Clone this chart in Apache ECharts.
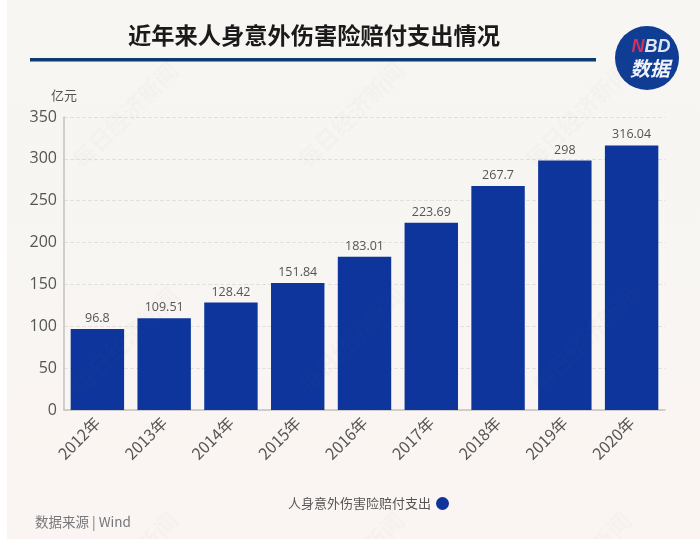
<!DOCTYPE html>
<html><head><meta charset="utf-8">
<style>html,body{margin:0;padding:0;background:#fff}#c{width:700px;height:539px}</style>
<script src="https://cdn.jsdelivr.net/npm/echarts@6/dist/echarts.min.js"></script>
</head><body><div id="c"></div>
<script>
const categories = ['2012年','2013年','2014年','2015年','2016年','2017年','2018年','2019年','2020年'];
const values = [96.8,109.51,128.42,151.84,183.01,223.69,267.7,298,316.04];
const valueLabels = ['96.8','109.51','128.42','151.84','183.01','223.69','267.7','298','316.04'];
const seriesName = '人身意外伤害险赔付支出';
const titleText = '近年来人身意外伤害险赔付支出情况';
const unitText = '亿元';
const sourceText = '数据来源 | Wind';
const watermarkText = '每日经济新闻';
const watermarkSpots = [[125,115],[351,115],[578,115],[125,340],[351,340],[585,340],[125,565],[351,565],[578,565]];
const font = '"Noto Sans CJK SC","Open Sans",sans-serif';
const chart = echarts.init(document.getElementById('c'), null, {renderer:'canvas'});
const bg = [
  {type:'rect',z:-10,shape:{x:7,y:0,width:693,height:539},style:{fill:new echarts.graphic.LinearGradient(0,0,0,1,[{offset:0,color:'#f7f6f3'},{offset:0.6,color:'#f8f5f2'},{offset:0.8,color:'#fbf5f2'},{offset:1,color:'#faf5f2'}])}},
  {type:'rect',z:5,shape:{x:30,y:58,width:566,height:3.5},style:{fill:'#0c3b6e'}},
  {type:'circle',z:5,shape:{cx:647,cy:58,r:32},style:{fill:'#0f3d94'}},
  {type:'text',z:6,x:651,y:47,style:{text:'{a|N}{b|BD}',align:'center',verticalAlign:'middle',rich:{a:{fill:'#d8305a',font:'italic bold 18px "Liberation Sans"'},b:{fill:'#dfe6f2',font:'italic bold 18px "Liberation Sans"'}}}},
  {type:'text',z:6,x:650,y:68,style:{text:'数据',fill:'#f1f3f8',align:'center',verticalAlign:'middle',font:'italic bold 20px "Noto Sans CJK SC"'}},
  {type:'text',z:6,x:35,y:522,style:{text:sourceText,fill:'#77777a',align:'left',verticalAlign:'middle',font:'13.5px '+font}}
];
watermarkSpots.forEach(p=>bg.push({type:'text',z:20,silent:true,x:p[0],y:p[1],rotation:Math.PI/4,style:{text:watermarkText,fill:'rgba(120,120,120,0.03)',align:'center',verticalAlign:'middle',font:'bold 23px "Noto Sans CJK SC"'}}));
chart.setOption({
  animation:false,
  backgroundColor:'#fff',
  title:{text:titleText,left:309,top:19,textAlign:'center',textStyle:{fontFamily:font,fontWeight:'bold',fontSize:23.25,color:'#1a1a1a'}},
  legend:{data:[{name:seriesName,icon:'circle'}],left:283,top:492,align:'right',itemWidth:13,itemHeight:13,itemGap:4,
    textStyle:{fontFamily:font,fontSize:13,color:'#555'}},
  grid:{left:64,right:35,top:117,bottom:129,containLabel:false},
  xAxis:{type:'category',data:categories,
    axisLine:{lineStyle:{color:'#c3c2bf',width:1.5}},axisTick:{show:false},
    axisLabel:{rotate:45,margin:10,interval:0,fontFamily:font,fontSize:16,color:'#555'}},
  yAxis:{type:'value',min:0,max:350,interval:50,name:unitText,nameLocation:'end',nameGap:15,
    nameTextStyle:{fontFamily:font,fontSize:13,color:'#555',align:'right',padding:[0,-13,0,0]},
    axisLine:{show:true,lineStyle:{color:'#c3c2bf',width:1.5}},axisTick:{show:false},
    axisLabel:{margin:7,fontFamily:'"Open Sans",sans-serif',fontSize:16,color:'#555'},
    splitLine:{lineStyle:{color:'#e2e1de',type:'dashed',width:1}}},
  series:[{name:seriesName,type:'bar',data:values,barWidth:'80%',
    itemStyle:{color:'#0e359c'},
    label:{show:true,position:'top',distance:4,fontFamily:'"Open Sans",sans-serif',fontSize:12.5,color:'#555',
      formatter:p=>valueLabels[p.dataIndex]}}],
  graphic:bg
});
</script></body></html>
